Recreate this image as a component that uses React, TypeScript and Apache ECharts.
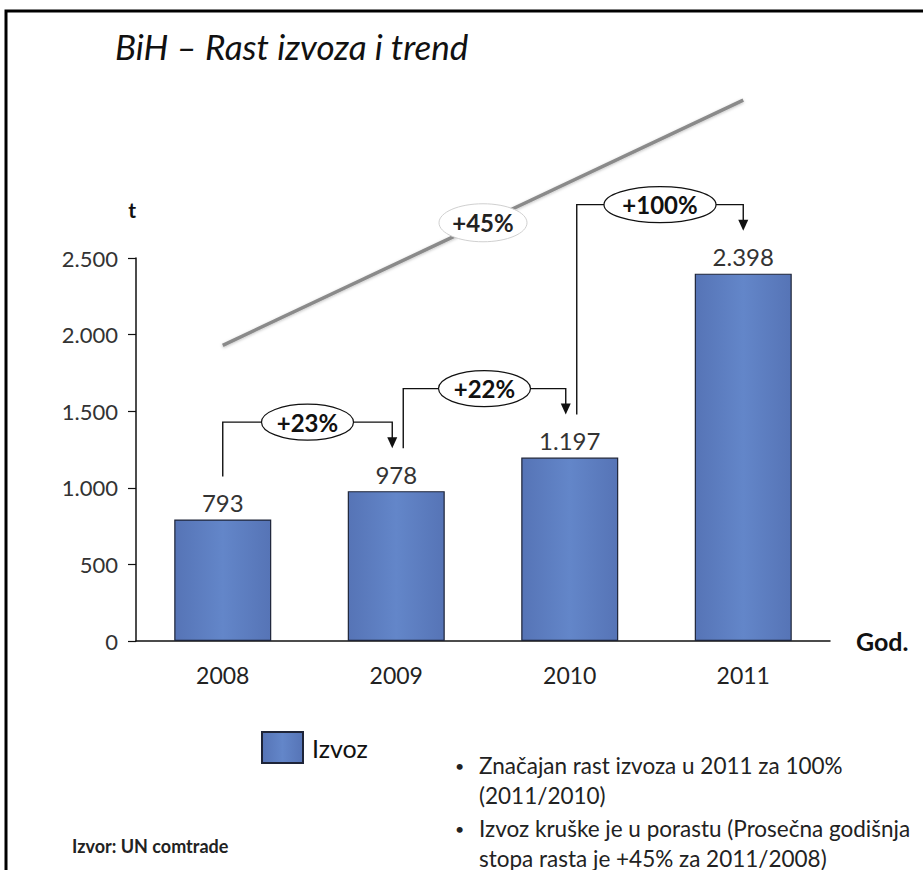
import React, { useEffect, useRef } from "react";
import * as echarts from "echarts";

const years = ["2008", "2009", "2010", "2011"];
const izvoz = [793, 978, 1197, 2398];
const yMin = 0;
const yMax = 2500;
const yStep = 500;
const growthLabels = ["+23%", "+22%", "+100%"];
const trendLabel = "+45%";
const trendFrom = 1930; // trend arrow value at 2008
const trendTo = 3530; // trend arrow value at 2011
const titleText = "BiH – Rast izvoza i trend";
const bulletLines = [
  { bullet: true, text: "Značajan rast izvoza u 2011 za 100%" },
  { bullet: false, text: "(2011/2010)" },
  { bullet: true, text: "Izvoz kruške je u porastu (Prosečna godišnja" },
  { bullet: false, text: "stopa rasta je +45% za 2011/2008)" },
];
const sourceText = "Izvor: UN comtrade";

const FONT = "Lato, 'Open Sans', sans-serif";
const fmt = (v: number) => String(v).replace(/\B(?=(\d{3})+(?!\d))/g, ".");

export default function App() {
  const ref = useRef<HTMLDivElement>(null);
  useEffect(() => {
    if (!ref.current) return;
    const chart = echarts.init(ref.current, null, { renderer: "svg" });
    chart.setOption({
      animation: false,
      backgroundColor: "#ffffff",
      textStyle: { fontFamily: FONT },
      grid: { left: 136, right: 93, top: 258, bottom: 229 },
      legend: {
        data: [{ name: "Izvoz", icon: "rect" }],
        left: 256,
        top: 726,
        itemWidth: 41,
        itemHeight: 31,
        textStyle: { fontSize: 25, color: "#111", fontFamily: FONT, padding: [0, 0, 0, 4] },
      },
      xAxis: {
        type: "category",
        data: years,
        name: "God.",
        nameLocation: "end",
        nameGap: 26,
        nameTextStyle: { fontSize: 25, fontWeight: "bold", color: "#111", fontFamily: FONT },
        axisLine: { lineStyle: { color: "#111", width: 1.5 } },
        axisTick: { show: false },
        axisLabel: { fontSize: 23, color: "#222", margin: 22, fontFamily: FONT },
      },
      yAxis: {
        type: "value",
        min: yMin,
        max: yMax,
        interval: yStep,
        name: "t",
        nameLocation: "end",
        nameGap: 38,
        nameTextStyle: { fontSize: 21, fontWeight: "bold", color: "#111", fontFamily: FONT, align: "right" },
        axisLine: { show: true, lineStyle: { color: "#111", width: 1.5 } },
        axisTick: { show: true, length: 8, lineStyle: { color: "#111", width: 1.2 } },
        splitLine: { show: false },
        axisLabel: { fontSize: 22, color: "#333", margin: 18, fontFamily: FONT, formatter: (v: number) => fmt(v) },
      },
      series: [
        {
          name: "Izvoz",
          type: "bar",
          data: izvoz,
          barWidth: 97,
          itemStyle: {
            color: new echarts.graphic.LinearGradient(0, 0, 1, 0, [
              { offset: 0, color: "#5674b6" },
              { offset: 0.5, color: "#6386c9" },
              { offset: 1, color: "#5674b6" },
            ]),
            borderColor: "#1e2438",
            borderWidth: 1.2,
          },
          label: {
            show: true,
            position: "top",
            distance: 5,
            fontSize: 24,
            color: "#333",
            fontFamily: FONT,
            formatter: (p: any) => fmt(p.value),
          },
        },
      ],
    });

    const px = (i: number, v: number) =>
      chart.convertToPixel({ xAxisIndex: 0, yAxisIndex: 0 }, [years[i], v]) as number[];
    const tops = izvoz.map((v, i) => px(i, v));

    const graphics: any[] = [];
    // frame
    graphics.push({
      type: "polyline",
      shape: { points: [[6, 870], [6, 11], [923, 11]] },
      style: { stroke: "#000", lineWidth: 3, fill: null },
    });
    // title
    graphics.push({
      type: "text",
      x: 115,
      y: 46,
      style: { text: titleText, fontSize: 35, fontStyle: "italic", fontFamily: FONT, fill: "#111", verticalAlign: "middle" },
    });
    // trend arrow
    const t0 = px(0, trendFrom);
    const t1 = px(3, trendTo);
    graphics.push({
      type: "line",
      shape: { x1: t0[0], y1: t0[1], x2: t1[0], y2: t1[1] },
      style: { stroke: "#8a8a8a", lineWidth: 3.5, shadowBlur: 3, shadowColor: "rgba(0,0,0,0.25)", shadowOffsetY: 1 },
    });
    const tm = [(t0[0] + t1[0]) / 2, (t0[1] + t1[1]) / 2];
    graphics.push({
      type: "ellipse",
      shape: { cx: tm[0], cy: tm[1], rx: 44, ry: 19 },
      style: { fill: "#fff", stroke: "#d0d0d0", lineWidth: 1 },
    });
    graphics.push({
      type: "text",
      x: tm[0],
      y: tm[1],
      style: { text: trendLabel, fontSize: 24, fontWeight: "bold", fontFamily: FONT, fill: "#222", align: "center", verticalAlign: "middle" },
    });
    // growth brackets
    for (let i = 0; i < 3; i++) {
      const x0 = tops[i][0] + (i === 0 ? 0 : 7);
      const x1 = tops[i + 1][0] + (i === 2 ? 0 : -4);
      const y0 = tops[i][1] - 43;
      const y1 = tops[i + 1][1] - 43;
      const lvl = tops[i + 1][1] - 69;
      graphics.push({
        type: "polyline",
        shape: { points: [[x0, y0], [x0, lvl], [x1, lvl], [x1, y1 - 9]] },
        style: { stroke: "#111", lineWidth: 1.4, fill: null },
      });
      graphics.push({
        type: "polygon",
        shape: { points: [[x1 - 5, y1 - 11], [x1 + 5, y1 - 11], [x1, y1]] },
        style: { fill: "#111" },
      });
      const cx = (x0 + x1) / 2;
      graphics.push({
        type: "ellipse",
        shape: { cx, cy: lvl, rx: i === 2 ? 56 : 46, ry: 18 },
        style: { fill: "#fff", stroke: "#111", lineWidth: 1.2 },
      });
      graphics.push({
        type: "text",
        x: cx,
        y: lvl,
        style: { text: growthLabels[i], fontSize: 24, fontWeight: "bold", fontFamily: FONT, fill: "#111", align: "center", verticalAlign: "middle" },
      });
    }
    // bullets
    const lineYs = [765, 795, 828, 858];
    bulletLines.forEach((l, i) => {
      if (l.bullet) {
        graphics.push({
          type: "text",
          x: 455,
          y: lineYs[i],
          style: { text: "•", fontSize: 16, fontFamily: FONT, fill: "#222", verticalAlign: "middle" },
        });
      }
      graphics.push({
        type: "text",
        x: 479,
        y: lineYs[i],
        style: { text: l.text, fontSize: 22.5, fontFamily: FONT, fill: "#222", verticalAlign: "middle" },
      });
    });
    graphics.push({
      type: "text",
      x: 72,
      y: 846,
      style: { text: sourceText, fontSize: 18, fontWeight: "bold", fontFamily: FONT, fill: "#222", verticalAlign: "middle" },
    });
    chart.setOption({ graphic: graphics });

    return () => chart.dispose();
  }, []);
  return (
    <div
      ref={ref}
      style={{ position: "absolute", left: 0, top: 0, width: 923, height: 870 }}
    />
  );
}
